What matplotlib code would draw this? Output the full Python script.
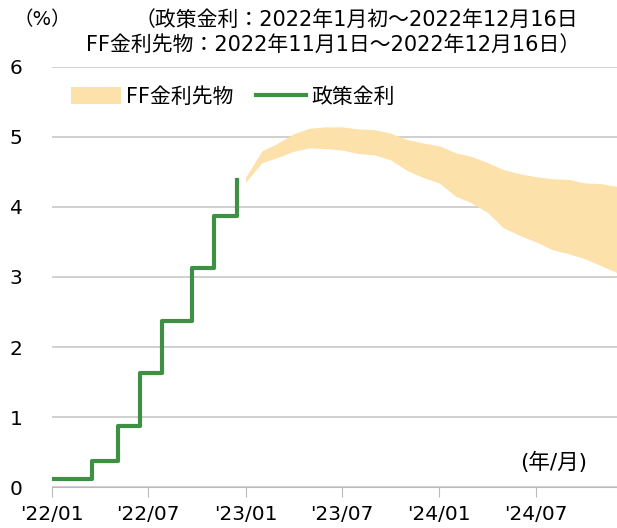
import matplotlib
matplotlib.use("Agg")
import matplotlib.pyplot as plt
import pandas as pd

plt.rcParams['font.family'] = ['DejaVu Sans', 'Noto Sans CJK JP']

# policy rate (midpoint of target range), step changes
policy_dates = pd.to_datetime(['2022-01-01', '2022-03-17', '2022-05-05', '2022-06-16',
                               '2022-07-28', '2022-09-22', '2022-11-03', '2022-12-15',
                               '2022-12-16'])
policy_rate = [0.125, 0.375, 0.875, 1.625, 2.375, 3.125, 3.875, 4.375, 4.375]

# FF futures range (monthly contracts)
ff_months = pd.date_range('2023-01-01', '2024-12-01', freq='MS')
ff_upper = [4.42, 4.80, 4.90, 5.04, 5.12, 5.14, 5.14, 5.11, 5.10, 5.05, 4.96, 4.91,
            4.87, 4.77, 4.72, 4.63, 4.53, 4.47, 4.43, 4.40, 4.39, 4.34, 4.33, 4.29]
ff_lower = [4.35, 4.63, 4.70, 4.79, 4.84, 4.83, 4.81, 4.76, 4.74, 4.67, 4.52, 4.42,
            4.34, 4.15, 4.06, 3.92, 3.70, 3.59, 3.50, 3.39, 3.33, 3.26, 3.16, 3.06]

tick_dates = pd.to_datetime(['2022-01-01', '2022-07-01', '2023-01-01',
                             '2023-07-01', '2024-01-01', '2024-07-01'])
tick_labels = ["'22/01", "'22/07", "'23/01", "'23/07", "'24/01", "'24/07"]

fig = plt.figure(figsize=(6.17, 5.28), dpi=100)
ax = fig.add_axes([0.084, 0.077, 0.916, 0.797])

ax.fill_between(ff_months, ff_lower, ff_upper, color='#FDE1AB', lw=0,
                label='FF金利先物', zorder=2)
ax.step(policy_dates, policy_rate, where='post', color='#3F8F45', lw=3,
        label='政策金利', zorder=3)

ax.set_ylim(0, 6)
ax.set_xlim(pd.Timestamp('2022-01-01'), pd.Timestamp('2024-12-01'))
ax.set_yticks(range(0, 7))
ax.set_xticks(tick_dates)
ax.set_xticklabels(tick_labels)
ax.tick_params(axis='y', length=0, labelsize=14.5, pad=21)
ax.tick_params(axis='x', length=7, color='#BBBBBB', labelsize=14.5, pad=6)
ax.grid(axis='y', color='#C8C8C8', lw=1.2)
ax.set_axisbelow(True)
for s in ['top', 'right', 'left']:
    ax.spines[s].set_visible(False)
ax.spines['bottom'].set_color('#BBBBBB')

ax.legend(loc='upper left', bbox_to_anchor=(0.0, 0.997), ncol=2, frameon=False,
          fontsize=15, handlelength=2.4, handleheight=0.85, handletextpad=0.25,
          columnspacing=1.1)

fig.text(0.022, 0.963, '（%）', fontsize=14, ha='left', va='center')
fig.text(0.937, 0.963, '（政策金利：2022年1月初～2022年12月16日', fontsize=15,
         ha='right', va='center')
fig.text(0.94, 0.915, 'FF金利先物：2022年11月1日～2022年12月16日）', fontsize=15,
         ha='right', va='center')
fig.text(0.952, 0.124, '(年/月)', fontsize=15.5, ha='right', va='center')

fig.savefig('out.png', dpi=100)
